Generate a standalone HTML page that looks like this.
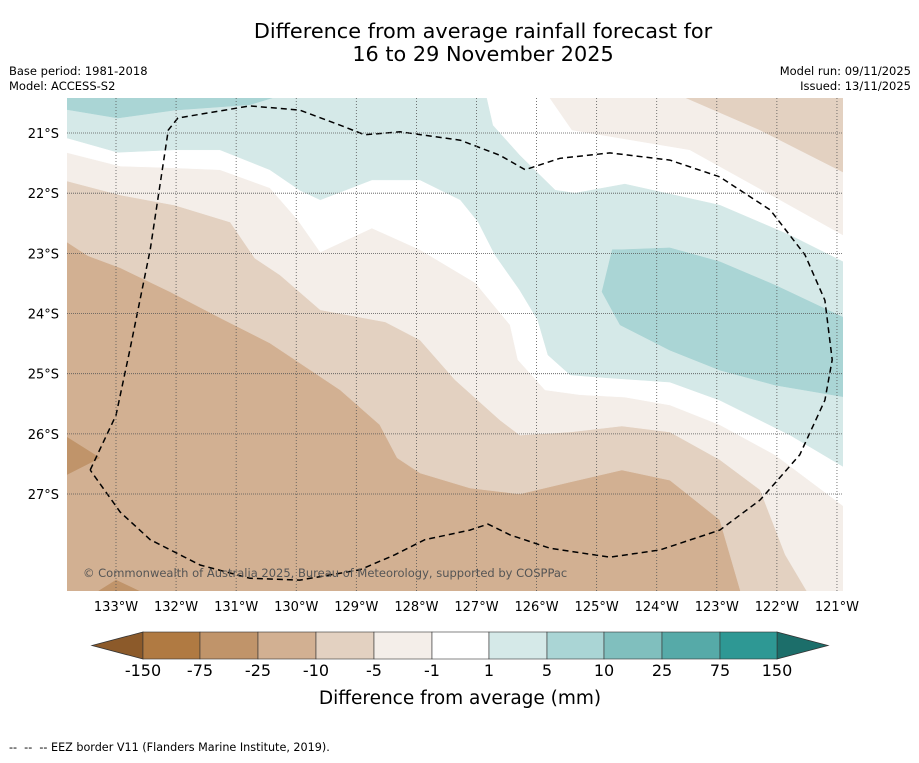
<!DOCTYPE html>
<html><head><meta charset="utf-8"><style>
body{margin:0;background:#fff;font-family:"Liberation Sans","DejaVu Sans",sans-serif}
svg text{font-family:"DejaVu Sans","Liberation Sans",sans-serif}
</style></head><body>
<svg id="chart" width="919" height="758" xmlns="http://www.w3.org/2000/svg">
<text x="483" y="38" text-anchor="middle" font-size="20.8">Difference from average rainfall forecast for</text>
<text x="483" y="61" text-anchor="middle" font-size="20.8">16 to 29 November 2025</text>
<text x="9" y="75" font-size="11.5">Base period: 1981-2018</text>
<text x="9" y="90" font-size="11.5">Model: ACCESS-S2</text>
<text x="911" y="75" font-size="11.5" text-anchor="end">Model run: 09/11/2025</text>
<text x="911" y="90" font-size="11.5" text-anchor="end">Issued: 13/11/2025</text>
<defs><clipPath id="mapclip"><rect x="67" y="98" width="776" height="493"/></clipPath></defs>
<g id="map" clip-path="url(#mapclip)"></g>
<g id="grid"></g>
<g id="axes"></g>
<text x="83" y="577" font-size="11.5" fill="#555">© Commonwealth of Australia 2025, Bureau of Meteorology, supported by COSPPac</text>
<g id="cbar"></g>
<text x="460" y="704" text-anchor="middle" font-size="18.5">Difference from average (mm)</text>
<text x="9" y="751" font-size="11.2" style="white-space:pre">--  --  -- EEZ border V11 (Flanders Marine Institute, 2019).</text>
</svg>
<script>
const NS="http://www.w3.org/2000/svg";
const lonTicks=[133,132,131,130,129,128,127,126,125,124,123,122,121];
const latTicks=[21,22,23,24,25,26,27];
const cbarLabels=["-150","-75","-25","-10","-5","-1","1","5","10","25","75","150"];
const cbarColors=["#b07a42","#c0946a","#d2b092","#e3d1c1","#f4eee9","#ffffff","#d5e9e8","#aad5d5","#80bfbe","#56aaa8","#2e9894"];
const layerColors=["#e3d1c1","#f4eee9","#ffffff","#f4eee9","#e3d1c1","#d5e9e8","#aad5d5","#aad5d5","#c0946a","#c0946a"];
const layerLons=[
[134,133.82,133.47,132.93,132.10,131.27,130.44,130.02,129.27,128.61,128.32,127.94,127.11,126.28,125.44,124.58,123.78,122.95,122.58,120.8,120.8,134],
[134,132.93,132.02,131.10,130.69,130.27,129.60,128.52,127.94,127.36,126.61,126.28,125.44,124.58,123.78,122.95,122.28,121.86,121.45,120.8,120.8,134],
[134,132.93,132.27,131.27,130.44,129.97,129.60,128.74,127.94,127.02,126.44,126.31,125.86,125.28,124.53,123.78,122.95,122.03,120.8,120.8,134],
[125.86,125.41,123.45,121.95,120.8,120.8],
[123.78,122.28,120.8,120.8],
[134,126.86,126.73,126.28,125.69,125.36,124.53,122.95,121.78,120.8,120.8,121.78,122.95,123.78,124.94,125.44,125.81,125.98,126.28,126.69,126.97,127.27,127.94,128.74,129.60,129.94,130.44,131.27,132.02,132.97,134],
[134,130.02,130.77,132.02,132.97,134],
[124.74,124.58,123.78,122.95,122.03,120.8,120.8,122.03,122.95,123.78,124.61,124.91],
[134,133.27,134],
[133.43,133,132.43]];
const layerLats=[
[22.81,22.81,23.04,23.24,23.64,24.07,24.49,24.77,25.27,25.85,26.40,26.65,26.90,27.00,26.80,26.60,26.77,27.43,28.7,28.7,20.3,20.3],
[21.75,22.03,22.20,22.48,23.08,23.36,23.94,24.14,24.44,25.10,25.77,26.02,25.97,25.87,25.97,26.43,26.93,28.01,28.7,28.7,20.3,20.3],
[21.28,21.55,21.57,21.61,21.91,22.45,22.98,22.58,22.94,23.49,24.19,24.77,25.27,25.35,25.39,25.52,25.85,26.35,27.27,20.3,20.3],
[20.3,20.95,21.28,22.11,22.75,20.3],
[20.3,20.95,21.70,20.3],
[20.3,20.3,20.87,21.37,21.95,22.00,21.85,22.20,22.70,23.19,26.60,26.02,25.44,25.14,25.06,25.02,24.69,24.11,23.61,23.03,22.48,22.11,21.78,21.78,22.11,21.95,21.61,21.28,21.28,21.32,21.03],
[20.3,20.3,20.53,20.62,20.75,20.58],
[22.94,22.94,22.91,23.14,23.53,24.11,25.40,25.19,24.94,24.61,24.19,23.64],
[25.94,26.40,26.77],
[28.7,28.43,28.7]];
const eezLons=[133.43,133.00,132.77,132.43,132.13,131.97,130.77,129.94,129.27,128.86,128.27,127.27,126.61,126.19,125.61,124.78,123.78,122.95,122.11,121.53,121.20,121.08,121.20,121.62,122.28,122.95,123.95,124.78,125.78,126.44,126.81,127.11,127.86,128.36,128.94,129.94,130.77,131.60,132.43,132.93,133.43];
const eezLats=[26.60,25.69,24.61,22.94,20.95,20.75,20.55,20.62,20.87,21.03,20.98,21.12,21.37,21.61,21.42,21.33,21.45,21.73,22.28,23.03,23.78,24.77,25.44,26.35,27.10,27.60,27.93,28.05,27.90,27.68,27.50,27.60,27.76,28.01,28.26,28.43,28.40,28.18,27.76,27.30,26.60];
const X=lon=>116+(133-lon)*60.08;
const Y=lat=>133+(lat-21)*60.17;
function mk(tag,attrs,parent){const e=document.createElementNS(NS,tag);for(const k in attrs)e.setAttribute(k,attrs[k]);parent.appendChild(e);return e;}
const map=document.getElementById('map');
let bg=mk('rect',{x:67,y:98,width:776,height:493,fill:'#d2b092'},map);


layerColors.forEach((c,i)=>{
  const pts=layerLons[i].map((l,j)=>X(l).toFixed(1)+','+Y(layerLats[i][j]).toFixed(1)).join(' ');
  const p=mk('polygon',{points:pts,fill:c,stroke:c,'stroke-width':0.5},map);
  
  
});
const grid=document.getElementById('grid');
lonTicks.forEach(l=>{const ln=mk('line',{x1:X(l),x2:X(l),y1:98,y2:591,stroke:'#555','stroke-width':0.8,'stroke-dasharray':'1,2'},grid);

});
latTicks.forEach(l=>{const ln=mk('line',{x1:67,x2:843,y1:Y(l),y2:Y(l),stroke:'#555','stroke-width':0.8,'stroke-dasharray':'1,1'},grid);

});
const eez=mk('polyline',{points:eezLons.map((l,j)=>X(l).toFixed(1)+','+Y(eezLats[j]).toFixed(1)).join(' '),fill:'none',stroke:'#000','stroke-width':1.5,'stroke-dasharray':'6,4'},map);


const axes=document.getElementById('axes');
lonTicks.forEach(l=>{const t=mk('text',{x:X(l),y:611,'text-anchor':'middle','font-size':13},axes);t.textContent=l+'°W';

});
latTicks.forEach(l=>{const t=mk('text',{x:59,y:Y(l)+5,'text-anchor':'end','font-size':13},axes);t.textContent=l+'°S';

});
const cb=document.getElementById('cbar');
const bx=[143,200,258,316,374,432,489,547,604,662,720,777];
let tl=mk('polygon',{points:'92,645.5 143,632 143,659',fill:'#8c5a2a',stroke:'#333','stroke-width':0.8},cb);


let tr=mk('polygon',{points:'828,645.5 777,632 777,659',fill:'#1c6e6a',stroke:'#333','stroke-width':0.8},cb);


cbarColors.forEach((c,i)=>{const r=mk('rect',{x:bx[i],y:632,width:bx[i+1]-bx[i],height:27,fill:c,stroke:'#333','stroke-width':0.6},cb);

});
cbarLabels.forEach((s,i)=>{const t=mk('text',{x:bx[i],y:676,'text-anchor':'middle','font-size':16},cb);t.textContent=s;

});
</script>
</body></html>
